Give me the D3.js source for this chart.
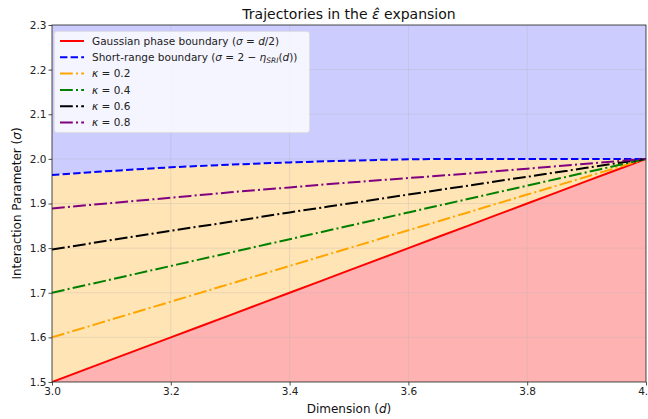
<!DOCTYPE html>
<html><head><meta charset="utf-8">
<script src="https://cdn.jsdelivr.net/npm/d3@7"></script>
<style>
body{margin:0;background:#fff;overflow:hidden}
svg{font-family:"DejaVu Sans",sans-serif}
</style></head>
<body><svg id="c" width="648" height="419"></svg>
<script>
// Data
const dims = [3.0,3.1,3.2,3.3,3.4,3.5,3.6,3.7,3.8,3.9,4.0];
const gaussian = [1.50,1.55,1.60,1.65,1.70,1.75,1.80,1.85,1.90,1.95,2.00];
const shortRange = [1.964,1.973,1.981,1.987,1.992,1.996,1.999,2.000,2.000,2.000,2.000];
const kappa02 = [1.600,1.640,1.680,1.720,1.760,1.800,1.840,1.880,1.920,1.960,2.000];
const kappa04 = [1.700,1.730,1.760,1.790,1.820,1.850,1.880,1.910,1.940,1.970,2.000];
const kappa06 = [1.797,1.818,1.839,1.859,1.880,1.900,1.920,1.940,1.960,1.980,2.000];
const kappa08 = [1.889,1.901,1.913,1.925,1.936,1.947,1.957,1.967,1.978,1.989,2.000];
const kappaLabels = ["0.2","0.4","0.6","0.8"];
const xTicks = [3.0,3.2,3.4,3.6,3.8,4.0];
const yTicks = [1.5,1.6,1.7,1.8,1.9,2.0,2.1,2.2,2.3];

const svg = d3.select("#c");
const L=52, R=646, T=25, B=382;
const x = d3.scaleLinear().domain([3,4]).range([L,R]);
const y = d3.scaleLinear().domain([1.5,2.3]).range([B,T]);

const defs = svg.append("defs");
defs.append("clipPath").attr("id","clip").append("rect").attr("x",L).attr("y",T).attr("width",R-L).attr("height",B-T);
const g = svg.append("g").attr("clip-path","url(#clip)");

const pts = arr => dims.map((d,i)=>({d, v:arr[i]}));
const area = (lo, hi) => d3.area().x((p,i)=>x(dims[i])).y0((p,i)=>y(lo(i))).y1((p,i)=>y(hi(i)));

// fills
g.append("path").datum(dims).attr("d", area(i=>shortRange[i], i=>2.3)).attr("fill","rgb(204,204,255)");
g.append("path").datum(dims).attr("d", area(i=>gaussian[i], i=>shortRange[i])).attr("fill","rgb(255,228,181)");
g.append("path").datum(dims).attr("d", area(i=>1.5, i=>gaussian[i])).attr("fill","rgb(255,178,178)");

// grid
g.selectAll(".gx").data(xTicks).enter().append("line")
 .attr("x1",d=>x(d)).attr("x2",d=>x(d)).attr("y1",T).attr("y2",B)
 .attr("stroke","#b0b0b0").attr("stroke-opacity",0.35).attr("stroke-width",0.8);
g.selectAll(".gy").data(yTicks).enter().append("line")
 .attr("y1",d=>y(d)).attr("y2",d=>y(d)).attr("x1",L).attr("x2",R)
 .attr("stroke","#b0b0b0").attr("stroke-opacity",0.35).attr("stroke-width",0.8);

const line = d3.line().x(p=>x(p.d)).y(p=>y(p.v)).curve(d3.curveMonotoneX);
const series = [
 {data:gaussian, color:"#ff0000", dash:null, label:"gauss"},
 {data:shortRange, color:"#0000ff", dash:"7.4,3.2", label:"sr"},
 {data:kappa02, color:"#ffa500", dash:"12.8,3.2,2,3.2", label:kappaLabels[0]},
 {data:kappa04, color:"#008000", dash:"12.8,3.2,2,3.2", label:kappaLabels[1]},
 {data:kappa06, color:"#000000", dash:"12.8,3.2,2,3.2", label:kappaLabels[2]},
 {data:kappa08, color:"#800080", dash:"12.8,3.2,2,3.2", label:kappaLabels[3]},
];
series.forEach(s=>{
  g.append("path").datum(pts(s.data)).attr("d",line).attr("fill","none")
   .attr("stroke",s.color).attr("stroke-width",2).attr("stroke-dasharray",s.dash);
});

// axes
const xa = svg.append("g").attr("transform",`translate(0,${B})`)
 .call(d3.axisBottom(x).tickValues(xTicks).tickFormat(d3.format(".1f")).tickSize(3.5).tickPadding(2));
const ya = svg.append("g").attr("transform",`translate(${L},0)`)
 .call(d3.axisLeft(y).tickValues(yTicks).tickFormat(d3.format(".1f")).tickSize(3.5).tickPadding(2));
[xa,ya].forEach(a=>{
  a.selectAll("text").attr("font-size",10.5).attr("fill","#222").attr("font-family","DejaVu Sans");
  a.selectAll("line").attr("stroke","#222").attr("stroke-width",0.8);
  a.select(".domain").remove();
});
svg.append("rect").attr("x",L).attr("y",T).attr("width",R-L).attr("height",B-T)
 .attr("fill","none").attr("stroke","#222").attr("stroke-width",0.8);

// title & labels
const title = svg.append("text").attr("x",(L+R)/2).attr("y",19).attr("text-anchor","middle").attr("font-size",14).attr("fill","#111");
title.append("tspan").text("Trajectories in the ");
title.append("tspan").attr("font-style","italic").text("\u03B5\u0302");
title.append("tspan").text(" expansion");

const xl = svg.append("text").attr("x",(L+R)/2).attr("y",413).attr("text-anchor","middle").attr("font-size",12).attr("fill","#111");
xl.append("tspan").text("Dimension (");
xl.append("tspan").attr("font-style","italic").text("d");
xl.append("tspan").text(")");

const yl = svg.append("text").attr("transform",`translate(21,${(T+B)/2}) rotate(-90)`).attr("text-anchor","middle").attr("font-size",12).attr("fill","#111");
yl.append("tspan").text("Interaction Parameter (");
yl.append("tspan").attr("font-style","italic").text("\u03C3");
yl.append("tspan").text(")");

// legend
const lg = svg.append("g");
lg.append("rect").attr("x",54.5).attr("y",31.5).attr("width",255).attr("height",101).attr("rx",2.5)
 .attr("fill","#fff").attr("fill-opacity",0.8).attr("stroke","#ddd").attr("stroke-width",0.8);
const rowY = i => 41 + i*16.3;
series.forEach((s,i)=>{
  lg.append("line").attr("x1",60).attr("x2",84).attr("y1",rowY(i)).attr("y2",rowY(i))
   .attr("stroke",s.color).attr("stroke-width",2).attr("stroke-dasharray",s.dash);
  const t = lg.append("text").attr("x",92).attr("y",rowY(i)+3.8).attr("font-size",10.5).attr("fill","#222");
  if(s.label==="gauss"){
    t.append("tspan").text("Gaussian phase boundary (");
    t.append("tspan").attr("font-style","italic").text("\u03C3");
    t.append("tspan").text(" = ");
    t.append("tspan").attr("font-style","italic").text("d");
    t.append("tspan").text("/2)");
  } else if(s.label==="sr"){
    t.append("tspan").text("Short-range boundary (");
    t.append("tspan").attr("font-style","italic").text("\u03C3");
    t.append("tspan").text(" = 2 \u2212 ");
    t.append("tspan").attr("font-style","italic").text("\u03B7");
    t.append("tspan").attr("font-style","italic").attr("font-size",7.5).attr("dy",2).text("SRI");
    t.append("tspan").attr("dy",-2).text("(");
    t.append("tspan").attr("font-style","italic").text("d");
    t.append("tspan").text("))");
  } else {
    t.append("tspan").attr("font-style","italic").text("\u03BA");
    t.append("tspan").text(" = " + s.label);
  }
});
</script></body></html>
